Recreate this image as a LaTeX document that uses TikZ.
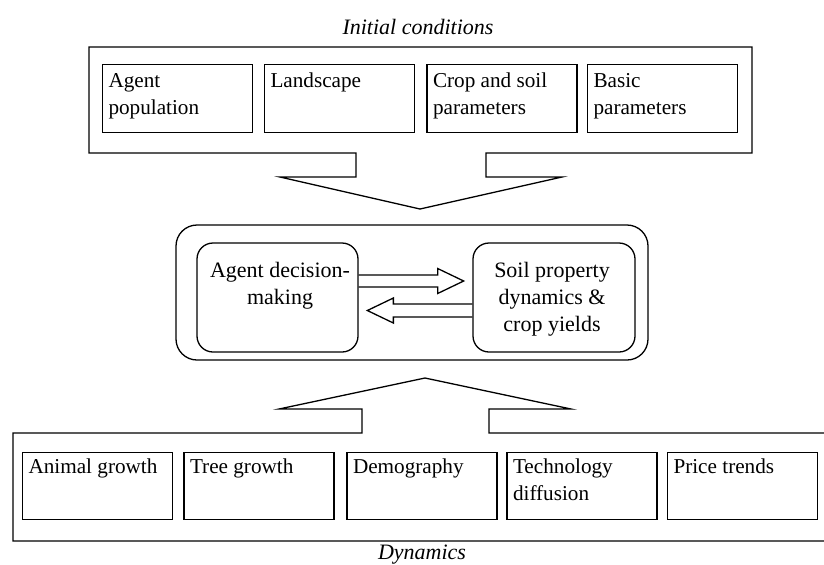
\documentclass[tikz,border=0pt]{standalone}
\usepackage{fontspec}
\setmainfont{Liberation Serif}
\usetikzlibrary{calc}
\begin{document}
\begin{tikzpicture}[x=0.5pt,y=-0.5pt,line width=0.65pt,line join=miter,
  cell/.style={draw,rectangle,inner sep=0pt,minimum width=75pt,minimum height=33.75pt},
  celltext/.style={anchor=north west,inner sep=0pt,align=left,font=\fontsize{10.6}{13.5}\selectfont},
  rbox/.style={draw,rectangle,rounded corners=8pt,inner sep=0pt,minimum height=54.5pt},
  midtext/.style={anchor=north,inner sep=0pt,align=center,font=\fontsize{11}{13.3}\selectfont},
  capt/.style={anchor=base,inner sep=0pt,font=\fontsize{11}{13}\selectfont\itshape}]
\useasboundingbox (0,0) rectangle (824,564);

% caption top
\node[capt] (tcap) at (418,34) {Initial conditions};
% top callout
\draw (89,47) -- (752,47) -- (752,153) -- (486,153) -- (486,177) -- (562,177)
  -- (420,209) -- (280,177) -- (356,177) -- (356,153) -- (89,153) -- cycle;
\node[cell] (a1) at (177.5,98.5) {};
\node[cell] (a2) at (339.5,98.5) {};
\node[cell] (a3) at (502,98.5) {};
\node[cell] (a4) at (662.5,98.5) {};
\node[celltext] (ta1) at ($(a1.north west)+(6,8.5)$) {Agent\\population};
\node[celltext] (ta2) at ($(a2.north west)+(6,8.5)$) {Landscape};
\node[celltext] (ta3) at ($(a3.north west)+(6,8.5)$) {Crop and soil\\parameters};
\node[celltext] (ta4) at ($(a4.north west)+(6,8.5)$) {Basic\\parameters};

% middle
\node[draw,rectangle,rounded corners=10.5pt,inner sep=0pt,minimum width=236pt,minimum height=67.5pt] (mid) at (412,292.5) {};
\node[rbox,minimum width=80.5pt] (L) at (277.5,297.5) {};
\node[rbox,minimum width=81pt] (R) at (554,297.5) {};
\node[midtext] (tL) at (280,262) {Agent decision-\\making};
\node[midtext] (tR) at (552,262) {Soil property\\dynamics \&\\crop yields};
\draw ($(L.east)+(0,-22.5)$) -- ++(79,0) -- ++(0,-6.5) -- ++(26,12.5) -- ++(-26,12.5) -- ++(0,-6.5) -- ++(-79,0);
\draw ($(R.west)+(0,6.5)$) -- ++(-79,0) -- ++(0,-6) -- ++(-26,12.5) -- ++(26,12.5) -- ++(0,-6) -- ++(79,0);

% bottom callout
\draw (830,433) -- (489,433) -- (489,409) -- (571,409) -- (425,378) -- (279,409)
  -- (362,409) -- (362,433) -- (13,433) -- (13,541) -- (830,541);
\node[cell] (b1) at (97.5,486) {};
\node[cell] (b2) at (259,486) {};
\node[cell] (b3) at (422,486) {};
\node[cell] (b4) at (582,486) {};
\node[cell] (b5) at (742.5,486) {};
\node[celltext] (tb1) at ($(b1.north west)+(6,7)$) {Animal growth};
\node[celltext] (tb2) at ($(b2.north west)+(6,7)$) {Tree growth};
\node[celltext] (tb3) at ($(b3.north west)+(6,7)$) {Demography};
\node[celltext] (tb4) at ($(b4.north west)+(6,7)$) {Technology\\diffusion};
\node[celltext] (tb5) at ($(b5.north west)+(6,7)$) {Price trends};
\node[capt] (bcap) at (422,559) {Dynamics};
\end{tikzpicture}
\end{document}
